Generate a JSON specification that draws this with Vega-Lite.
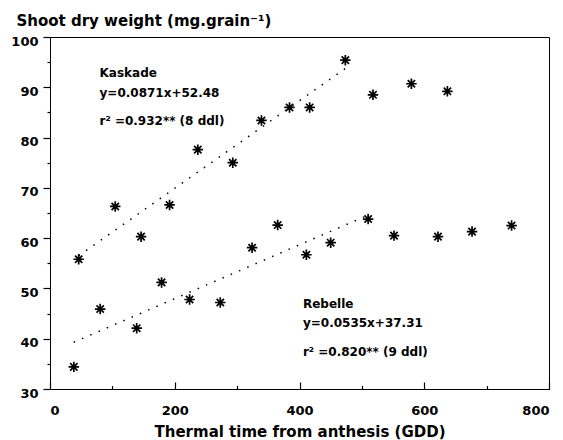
{
  "$schema": "https://vega.github.io/schema/vega-lite/v6.json",
  "autosize": {"type": "none"},
  "width": 499,
  "height": 352,
  "padding": {"left": 50, "top": 37, "right": 14, "bottom": 51},
  "background": "white",
  "config": {
    "view": {"stroke": "black", "strokeWidth": 1},
    "font": "DejaVu Sans"
  },
  "data": {
    "values": [
      {"cultivar": "Kaskade", "gdd": 46, "weight": 55.8},
      {"cultivar": "Kaskade", "gdd": 104.6, "weight": 66.3},
      {"cultivar": "Kaskade", "gdd": 146, "weight": 60.3},
      {"cultivar": "Kaskade", "gdd": 191.7, "weight": 66.6},
      {"cultivar": "Kaskade", "gdd": 237, "weight": 77.6},
      {"cultivar": "Kaskade", "gdd": 293, "weight": 75.0},
      {"cultivar": "Kaskade", "gdd": 339, "weight": 83.4},
      {"cultivar": "Kaskade", "gdd": 384, "weight": 86.0},
      {"cultivar": "Kaskade", "gdd": 416.3, "weight": 86.0},
      {"cultivar": "Kaskade", "gdd": 473.5, "weight": 95.4},
      {"cultivar": "Kaskade", "gdd": 517.8, "weight": 88.5},
      {"cultivar": "Kaskade", "gdd": 579.4, "weight": 90.7},
      {"cultivar": "Kaskade", "gdd": 637.1, "weight": 89.2},
      {"cultivar": "Rebelle", "gdd": 38.2, "weight": 34.4},
      {"cultivar": "Rebelle", "gdd": 80.5, "weight": 45.9},
      {"cultivar": "Rebelle", "gdd": 139, "weight": 42.1},
      {"cultivar": "Rebelle", "gdd": 178.9, "weight": 51.2},
      {"cultivar": "Rebelle", "gdd": 223.8, "weight": 47.8},
      {"cultivar": "Rebelle", "gdd": 273, "weight": 47.2},
      {"cultivar": "Rebelle", "gdd": 324, "weight": 58.1},
      {"cultivar": "Rebelle", "gdd": 365, "weight": 62.6},
      {"cultivar": "Rebelle", "gdd": 411, "weight": 56.7},
      {"cultivar": "Rebelle", "gdd": 450, "weight": 59.1},
      {"cultivar": "Rebelle", "gdd": 510, "weight": 63.8},
      {"cultivar": "Rebelle", "gdd": 551.5, "weight": 60.5},
      {"cultivar": "Rebelle", "gdd": 622, "weight": 60.3},
      {"cultivar": "Rebelle", "gdd": 676.6, "weight": 61.3},
      {"cultivar": "Rebelle", "gdd": 740, "weight": 62.5}
    ]
  },
  "encoding": {
    "x": {
      "field": "gdd", "type": "quantitative",
      "scale": {"domain": [0, 800], "nice": false, "zero": false},
      "axis": {
        "title": "Thermal time from anthesis (GDD)",
        "values": [0, 100, 200, 300, 400, 500, 600, 700, 800],
        "labelExpr": "datum.value % 200 === 0 ? datum.label : ''",
        "labelOverlap": false,
        "grid": false,
        "domainColor": "black",
        "tickColor": "black",
        "tickWidth": 1.2,
        "tickSize": {"condition": {"test": "datum.value % 200 === 0", "value": -7}, "value": -3.5},
        "labelPadding": 22,
        "labelFont": "DejaVu Sans",
        "labelFontWeight": "bold",
        "labelFontSize": 13,
        "labelColor": "black",
        "titleFont": "DejaVu Sans",
        "titleFontWeight": "bold",
        "titleFontSize": 15,
        "titleColor": "black",
        "titlePadding": 4
      }
    },
    "y": {
      "field": "weight", "type": "quantitative",
      "scale": {"domain": [30, 100], "nice": false, "zero": false},
      "axis": {
        "title": "Shoot dry weight (mg.grain⁻¹)",
        "values": [30, 35, 40, 45, 50, 55, 60, 65, 70, 75, 80, 85, 90, 95, 100],
        "labelExpr": "datum.value % 10 === 0 ? datum.label : ''",
        "labelOverlap": false,
        "grid": false,
        "domainColor": "black",
        "tickColor": "black",
        "tickWidth": 1.2,
        "tickSize": {"condition": {"test": "datum.value % 10 === 0", "value": 7}, "value": 3},
        "labelPadding": 5,
        "labelOffset": 4,
        "labelFont": "DejaVu Sans",
        "labelFontWeight": "bold",
        "labelFontSize": 13,
        "labelColor": "black",
        "titleFont": "DejaVu Sans",
        "titleFontWeight": "bold",
        "titleFontSize": 15,
        "titleColor": "black",
        "titleAngle": 0,
        "titleAlign": "left",
        "titleBaseline": "middle",
        "titleX": -34,
        "titleY": -17
      }
    }
  },
  "layer": [
    {
      "mark": {
        "type": "point",
        "shape": "M-1,0L1,0M0,-1L0,1M-0.7,-0.7L0.7,0.7M-0.7,0.7L0.7,-0.7",
        "filled": false,
        "stroke": "black",
        "strokeWidth": 1.7,
        "size": 110,
        "opacity": 1
      }
    },
    {
      "mark": {"type": "point", "shape": "circle", "filled": true, "color": "black", "size": 14, "opacity": 1}
    },
    {
      "data": {
        "values": [
          {"cultivar": "Kaskade", "gdd": 46, "weight": 56.5},
          {"cultivar": "Kaskade", "gdd": 473, "weight": 93.7},
          {"cultivar": "Rebelle", "gdd": 38, "weight": 39.3},
          {"cultivar": "Rebelle", "gdd": 505, "weight": 64.3}
        ]
      },
      "mark": {"type": "line", "color": "black", "strokeWidth": 1.5, "strokeDash": [1.5, 7.5]},
      "encoding": {"detail": {"field": "cultivar"}}
    },
    {
      "data": {
        "values": [
          {"label": "Kaskade", "gdd": 79.4, "weight": 92.9},
          {"label": "y=0.0871x+52.48", "gdd": 79.4, "weight": 88.9},
          {"label": "r² =0.932** (8 ddl)", "gdd": 79.4, "weight": 83.2},
          {"label": "Rebelle", "gdd": 405.5, "weight": 46.9},
          {"label": "y=0.0535x+37.31", "gdd": 405.5, "weight": 43.1},
          {"label": "r² =0.820** (9 ddl)", "gdd": 405.5, "weight": 37.4}
        ]
      },
      "mark": {"type": "text", "align": "left", "baseline": "middle", "font": "DejaVu Sans", "fontWeight": "bold", "fontSize": 12, "color": "black"},
      "encoding": {"text": {"field": "label"}}
    }
  ]
}
